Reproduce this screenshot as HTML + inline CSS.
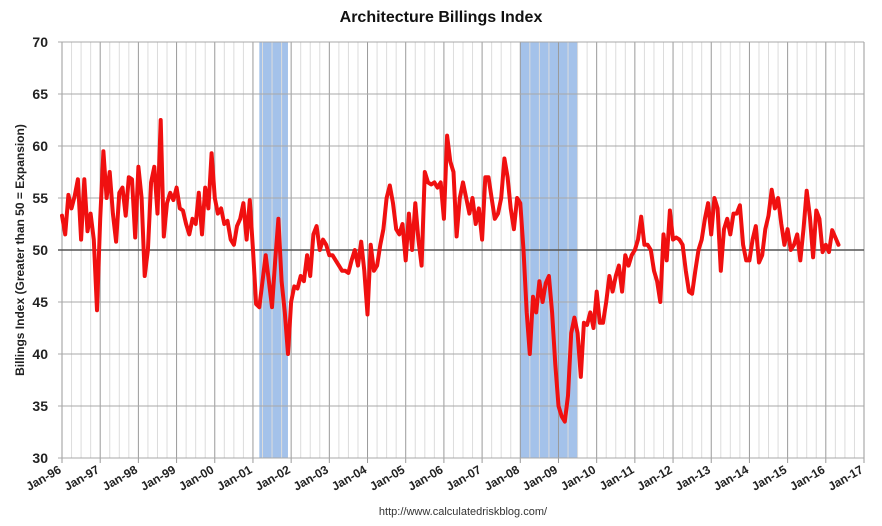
<!DOCTYPE html>
<html><head><meta charset="utf-8"><style>
body{margin:0;background:#fff;width:882px;height:526px;overflow:hidden;font-family:"Liberation Sans",sans-serif}
svg{display:block}
</style></head><body>
<svg id="chart" width="882" height="526"></svg>
<script>
const startYear=1996;
const yTicks=[30,35,40,45,50,55,60,65,70];
const yearLabels=["Jan-96","Jan-97","Jan-98","Jan-99","Jan-00","Jan-01","Jan-02","Jan-03","Jan-04","Jan-05","Jan-06","Jan-07","Jan-08","Jan-09","Jan-10","Jan-11","Jan-12","Jan-13","Jan-14","Jan-15","Jan-16","Jan-17"];
const recessions=[[2001+2/12,2001+11/12],[2008,2009+6/12]];
const abi=[
53.3,51.5,55.3,54,55.2,56.8,51,56.8,51.8,53.5,51,44.2,
53,59.5,55,57.5,53.5,50.8,55.5,56,53.3,57,56.8,51.2,
58,55,47.5,50,56.5,58,53.5,62.5,51.3,54.5,55.5,54.8,
56,54,53.8,52.5,51.5,53,52.5,55.5,51.5,56,54,59.3,
55,53.5,54,52.5,52.8,51,50.5,52.3,53,54.5,51,54.8,
50,44.8,44.5,47,49.5,47,44.5,49,53,47,44,40,
45,46.5,46.3,47.5,47,49.5,47.5,51.5,52.3,50,51,50.5,
49.5,49.5,49,48.5,48,48,47.8,49,50,48.5,50.8,48,
43.8,50.5,48,48.5,50.5,52,55,56.2,54.5,52,51.5,52.5,
49,53.5,50,54.5,51,48.5,57.5,56.5,56.3,56.5,56,56.5,
53,61,58.5,57.5,51.3,55,56.5,55,53.5,55,52.5,54,
51,57,57,55,53,53.5,55,58.8,57,54,52,55,
54.5,50,44,40,45.5,44,47,45,46.8,47.5,44,39,
35,34,33.5,36,42,43.5,42,37.8,43,42.8,44,42.5,
46,43,43,45,47.5,46,47.5,48.5,46,49.5,48.5,49.5,
50,51,53.2,50.5,50.5,50,48,47,45,51.5,49,53.8,
51,51.2,51,50.5,48,46,45.8,48,50,51,53,54.5,
51.5,55,54,48,52,53,51.5,53.5,53.5,54.3,50.5,49,
49,51,52.3,48.8,49.5,52,53.3,55.8,54,55,52.5,50.5,
52,50,50.5,51.5,49,52,55.7,53.2,49.3,53.8,53,49.8,
50.5,49.8,51.9,51.2,50.5];
const L=62,R=864,T=42,B=458;
const x=t=>L+(t-startYear)/21*(R-L);
const y=v=>B-(v-30)/40*(B-T);
const svg=document.getElementById('chart');
const NS='http://www.w3.org/2000/svg';
function mk(tag,at,parent){const e=document.createElementNS(NS,tag);for(const k in at)e.setAttribute(k,at[k]);(parent||svg).appendChild(e);return e;}
recessions.forEach(r=>{
const e=mk('rect',{x:x(r[0]),y:T,width:x(r[1])-x(r[0]),height:B-T,fill:'#a4c2ea'});


});
for(let q=0;q<21*4;q++){if(q%4===0)continue;const xx=x(startYear+q/4);
const e=mk('line',{x1:xx,x2:xx,y1:T,y2:B,stroke:'#dcdcdc','stroke-width':1});

}
yearLabels.forEach((lab,i)=>{const xx=x(startYear+i);
const g=mk('line',{x1:xx,x2:xx,y1:T,y2:B+5,stroke:'#9a9a9a','stroke-width':1});


const t=mk('text',{x:xx,y:B+14,'text-anchor':'end','font-size':12,'font-weight':'bold',fill:'#222',transform:`rotate(-30 ${xx} ${B+14})`});
t.textContent=lab;

});
yTicks.forEach(v=>{const yy=y(v);
const g=mk('line',{x1:L-4,x2:R,y1:yy,y2:yy,stroke:v===50?'#555':'#a8a8a8','stroke-width':v===50?1.5:1});


const t=mk('text',{x:L-14,y:yy+5,'text-anchor':'end','font-size':14,'font-weight':'bold',fill:'#222'});
t.textContent=v;

});
const pts=abi.map((v,i)=>x(startYear+i/12).toFixed(1)+','+y(v).toFixed(1)).join(' ');
const pl=mk('polyline',{points:pts,fill:'none',stroke:'#f01010','stroke-width':4,'stroke-linejoin':'round','stroke-linecap':'round'});


const ti=mk('text',{x:441,y:22,'text-anchor':'middle','font-size':16,'font-weight':'bold',fill:'#111'});
ti.textContent='Architecture Billings Index';


const yt=mk('text',{x:0,y:0,'text-anchor':'middle','font-size':12,'font-weight':'bold',fill:'#222',transform:`translate(24 ${(T+B)/2}) rotate(-90)`});
yt.textContent='Billings Index (Greater than 50 = Expansion)';


const src=mk('text',{x:463,y:515,'text-anchor':'middle','font-size':11,fill:'#333'});
src.textContent='http://www.calculatedriskblog.com/';


</script>
</body></html>
